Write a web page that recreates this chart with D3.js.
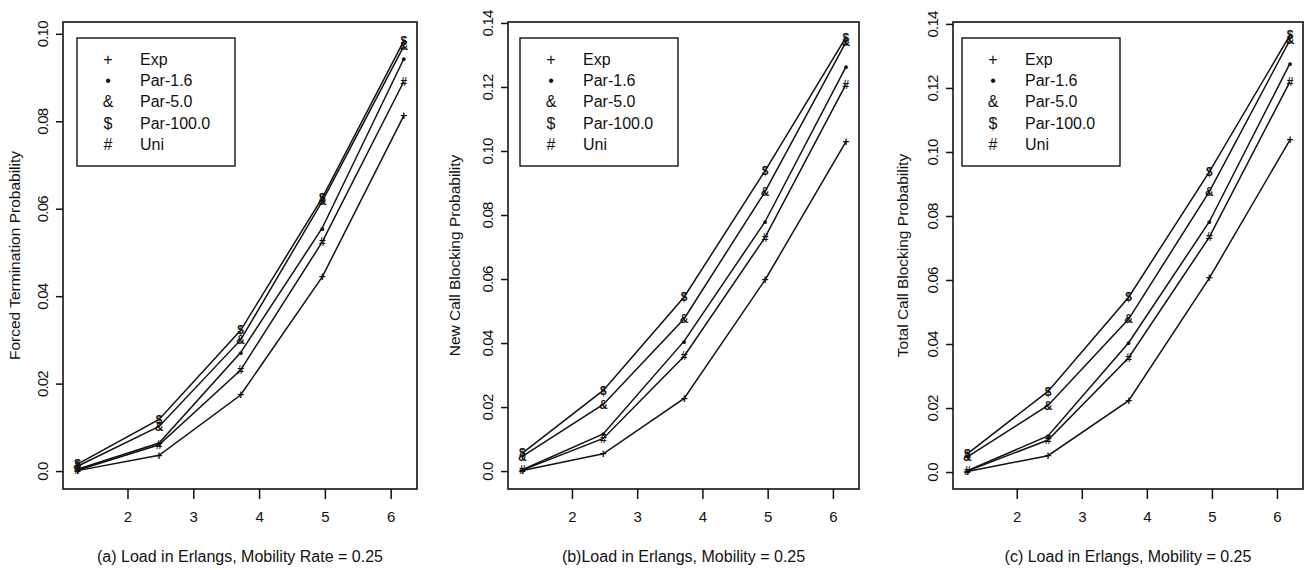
<!DOCTYPE html>
<html>
<head>
<meta charset="utf-8">
<script src="https://cdn.jsdelivr.net/npm/d3@7"></script>
<style>
  body { margin: 0; background: #fff; }
  text { font-family: "Liberation Sans", Arial, sans-serif; fill: #111; }
</style>
</head>
<body>
<div id="main"></div>
<script>
// load values (Erlangs) shared by all three panels
const loads = [1.24, 2.48, 3.72, 4.96, 6.2];

const seriesNames = ["Exp", "Par-1.6", "Par-5.0", "Par-100.0", "Uni"];
const seriesSymbols = ["+", "\u2022", "&", "$", "#"];

// (a) forced termination probability
const forcedExp = [0.0001, 0.0036, 0.0174, 0.0444, 0.0813];
const forcedPar16 = [0.0004, 0.0064, 0.0271, 0.0556, 0.0943];
const forcedPar50 = [0.0011, 0.0102, 0.0300, 0.0617, 0.0972];
const forcedPar100 = [0.0016, 0.0118, 0.0322, 0.0625, 0.0984];
const forcedUni = [0.0002, 0.0060, 0.0231, 0.0524, 0.0891];

// (b) new call blocking probability
const newExp = [0.0002, 0.0054, 0.0227, 0.0597, 0.1029];
const newPar16 = [0.0004, 0.0116, 0.0406, 0.0779, 0.1263];
const newPar50 = [0.0046, 0.0208, 0.0476, 0.0873, 0.1340];
const newPar100 = [0.0056, 0.0252, 0.0544, 0.0938, 0.1355];
const newUni = [0.0003, 0.0102, 0.0359, 0.0730, 0.1208];

// (c) total call blocking probability
const totalExp = [0.0002, 0.0051, 0.0223, 0.0606, 0.1038];
const totalPar16 = [0.0004, 0.0113, 0.0404, 0.0782, 0.1277];
const totalPar50 = [0.0047, 0.0208, 0.0478, 0.0876, 0.1350];
const totalPar100 = [0.0057, 0.0252, 0.0546, 0.0938, 0.1365];
const totalUni = [0.0003, 0.0100, 0.0357, 0.0734, 0.1220];

const xTicks = [2, 3, 4, 5, 6];
const yTicksA = [0, 0.02, 0.04, 0.06, 0.08, 0.10];
const yTicksBC = [0, 0.02, 0.04, 0.06, 0.08, 0.10, 0.12, 0.14];
const yTickLabelsA = ["0.0", "0.02", "0.04", "0.06", "0.08", "0.10"];
const yTickLabelsBC = ["0.0", "0.02", "0.04", "0.06", "0.08", "0.10", "0.12", "0.14"];

const yTitles = ["Forced Termination Probability", "New Call Blocking Probability", "Total Call Blocking Probability"];
const captions = ["(a) Load in Erlangs, Mobility Rate = 0.25", "(b)Load in Erlangs, Mobility = 0.25", "(c) Load in Erlangs, Mobility = 0.25"];

const panels = [
    { left: 63, right: 417, yDomain: [-0.0041, 0.1027], ticks: yTicksA, labels: yTickLabelsA,
      series: [forcedExp, forcedPar16, forcedPar50, forcedPar100, forcedUni], titleOff: 48, legOff: 14 },
    { left: 508, right: 859, yDomain: [-0.0056, 0.1403], ticks: yTicksBC, labels: yTickLabelsBC,
      series: [newExp, newPar16, newPar50, newPar100, newUni], titleOff: 53, legOff: 12 },
    { left: 953, right: 1303, yDomain: [-0.0053, 0.1406], ticks: yTicksBC, labels: yTickLabelsBC,
      series: [totalExp, totalPar16, totalPar50, totalPar100, totalUni], titleOff: 50, legOff: 9 }
];

const width = 1312, height = 570;
const plotTop = 22, plotBottom = 489;

const svg = d3.select("#main").append("svg")
    .attr("width", width)
    .attr("height", height);

panels.forEach((p, i) => {
    const x = d3.scaleLinear().domain([1.02, 6.4]).range([p.left, p.right]);
    const y = d3.scaleLinear().domain(p.yDomain).range([plotBottom, plotTop]);

    const g = svg.append("g");

    // lines
    const line = d3.line().x((d, k) => x(loads[k])).y(d => y(d));
    g.append("g")
        .selectAll("path")
        .data(p.series)
        .join("path")
        .attr("d", line)
        .attr("fill", "none")
        .attr("stroke", "#111")
        .attr("stroke-width", 1.5);

    // point symbols (plotted characters, as in the original)
    p.series.forEach((s, j) => {
        g.append("g")
            .selectAll("text")
            .data(s)
            .join("text")
            .attr("x", (d, k) => x(loads[k]))
            .attr("y", d => y(d))
            .attr("dy", "0.35em")
            .attr("text-anchor", "middle")
            .attr("font-size", j == 1 ? 13 : 12)
            .attr("font-weight", "bold")
            .text(seriesSymbols[j]);
    });

    // frame
    g.append("rect")
        .attr("x", p.left)
        .attr("y", plotTop)
        .attr("width", p.right - p.left)
        .attr("height", plotBottom - plotTop)
        .attr("fill", "none")
        .attr("stroke", "#111")
        .attr("stroke-width", 1.6);

    // x axis
    g.append("g")
        .attr("transform", `translate(0,${plotBottom})`)
        .call(d3.axisBottom(x).tickValues(xTicks).tickSize(10).tickPadding(12).tickFormat(d3.format("d")))
        .call(a => a.select(".domain").remove())
        .call(a => a.selectAll("line").attr("stroke", "#111").attr("stroke-width", 1.5))
        .call(a => a.selectAll("text").attr("font-size", 15).attr("font-family", "Liberation Sans, Arial, sans-serif").attr("fill", "#111"));

    // y axis, labels turned like the original
    g.append("g")
        .attr("transform", `translate(${p.left},0)`)
        .call(d3.axisLeft(y).tickValues(p.ticks).tickSize(7).tickFormat((d, k) => p.labels[k]))
        .call(a => a.select(".domain").remove())
        .call(a => a.selectAll("line").attr("stroke", "#111").attr("stroke-width", 1.5))
        .call(a => a.selectAll("text")
            .attr("transform", "rotate(-90)")
            .attr("x", 0)
            .attr("y", -15)
            .attr("dy", 0)
            .attr("text-anchor", "middle")
            .attr("font-size", 15)
            .attr("letter-spacing", -0.8)
            .attr("font-family", "Liberation Sans, Arial, sans-serif")
            .attr("fill", "#111"));

    // y title
    g.append("text")
        .attr("transform", `translate(${p.left - p.titleOff},${(plotTop + plotBottom) / 2}) rotate(-90)`)
        .attr("dy", "0.35em")
        .attr("text-anchor", "middle")
        .attr("font-size", 15.5)
        .text(yTitles[i]);

    // caption
    g.append("text")
        .attr("x", (p.left + p.right) / 2)
        .attr("y", 562)
        .attr("text-anchor", "middle")
        .attr("font-size", 16)
        .text(captions[i]);

    // legend
    const lx = p.left + p.legOff;
    const leg = g.append("g");
    leg.append("rect")
        .attr("x", lx)
        .attr("y", 38)
        .attr("width", 158)
        .attr("height", 128)
        .attr("fill", "#fff")
        .attr("stroke", "#111")
        .attr("stroke-width", 1.4);
    leg.selectAll(".sym")
        .data(seriesSymbols)
        .join("text")
        .attr("class", "sym")
        .attr("x", lx + 31)
        .attr("y", (d, k) => 59 + k * 21.3)
        .attr("dy", "0.35em")
        .attr("text-anchor", "middle")
        .attr("font-size", 16)
        .text(d => d);
    leg.selectAll(".lab")
        .data(seriesNames)
        .join("text")
        .attr("class", "lab")
        .attr("x", lx + 63)
        .attr("y", (d, k) => 59 + k * 21.3)
        .attr("dy", "0.35em")
        .attr("font-size", 16)
        .text(d => d);
});
</script>
</body>
</html>
